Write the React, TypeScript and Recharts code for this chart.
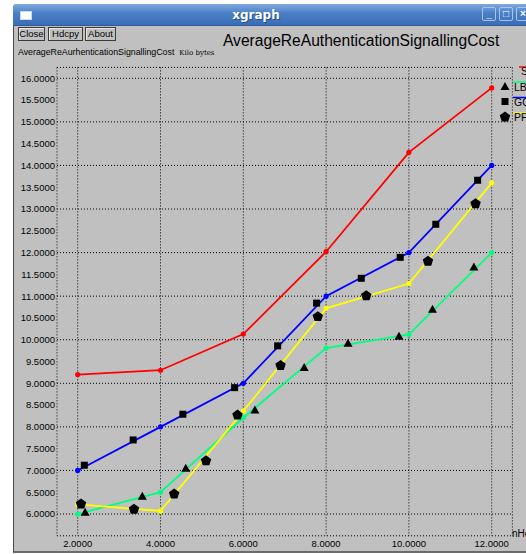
import { CartesianGrid, ComposedChart, Line, Scatter, XAxis, YAxis } from "recharts";

const xValues = [2, 4, 6, 8, 10, 12];
const sValues = [9.2, 9.3, 10.13, 12.02, 14.3, 15.78];
const lbValues = [6.0, 6.5, 8.21, 9.81, 10.12, 12.0];
const gqValues = [7.0, 8.0, 9.0, 11.0, 12.0, 14.0];
const pfValues = [6.22, 6.07, 8.36, 10.72, 11.29, 13.6];

// black marks that xgraph puts along each line
const lbMarkX = [2.18, 3.56, 4.61, 6.28, 7.47, 8.53, 9.76, 10.57, 11.57];
const lbMarkY = [6.04, 6.41, 7.05, 8.39, 9.36, 9.92, 10.08, 10.7, 11.67];
const gqMarkX = [2.16, 3.34, 4.54, 5.79, 6.83, 7.77, 8.85, 9.79, 10.65, 11.66];
const gqMarkY = [7.12, 7.7, 8.29, 8.9, 9.86, 10.84, 11.41, 11.89, 12.65, 13.66];
const pfMarkX = [2.08, 3.36, 4.33, 5.1, 5.86, 6.9, 7.8, 8.97, 10.46, 11.61];
const pfMarkY = [6.23, 6.11, 6.46, 7.22, 8.27, 9.41, 10.53, 11.01, 11.8, 13.12];

const xTicks = [2, 4, 6, 8, 10, 12];
const yTicks = [6, 6.5, 7, 7.5, 8, 8.5, 9, 9.5, 10, 10.5, 11, 11.5, 12, 12.5, 13, 13.5, 14, 14.5, 15, 15.5, 16];

const seriesNames = ["S", "LB", "GQ", "PF"];
const seriesColors = ["#ff0000", "#00ff7f", "#0000ff", "#ffff00"];

const FONT = "'Liberation Sans', Arial, sans-serif";
const BG = "#c0c0c0";

const pairs = (xs: number[], ys: number[]) => xs.map((x, i) => ({ x, y: ys[i] }));

function Triangle({ cx, cy }: any) {
  return <polygon points={`${cx},${cy - 4.5} ${cx + 4.5},${cy + 3.5} ${cx - 4.5},${cy + 3.5}`} fill="#000" />;
}

function Square({ cx, cy }: any) {
  return <rect x={cx - 3.5} y={cy - 3.5} width={7} height={7} fill="#000" />;
}

function Pentagon({ cx, cy }: any) {
  const r = 5.5;
  const pts = [0, 1, 2, 3, 4]
    .map((k) => {
      const a = -Math.PI / 2 + (k * 2 * Math.PI) / 5;
      return `${cx + r * Math.cos(a)},${cy + r * Math.sin(a)}`;
    })
    .join(" ");
  return <polygon points={pts} fill="#000" />;
}

const markShapes = [null, Triangle, Square, Pentagon];

function Button({ left, width, label }: { left: number; width: number; label: string }) {
  return (
    <div
      style={{
        position: "absolute",
        left,
        top: 27,
        width,
        height: 14,
        border: "1px solid #3a3a3a",
        boxShadow: "inset 1px 1px 0 #e8e8e8",
        boxSizing: "border-box",
        fontSize: 9.5,
        lineHeight: "12px",
        textAlign: "center",
        color: "#000",
      }}
    >
      {label}
    </div>
  );
}

function LegendBox() {
  const rows = [
    { line: 67, text: 71, x: 521, lineX: 519 },
    { line: 82, text: 87, x: 514, lineX: 513 },
    { line: 97.5, text: 102, x: 514, lineX: 513 },
    { line: 113, text: 117.5, x: 514, lineX: 513 },
  ];
  return (
    <svg width={526} height={554} style={{ position: "absolute", left: 0, top: 0, pointerEvents: "none" }}>
      {rows.map((r, i) => {
        const Shape = markShapes[i];
        return (
          <g key={seriesNames[i]}>
            <line x1={r.lineX} x2={530} y1={r.line} y2={r.line} stroke={seriesColors[i]} strokeWidth={1.5} />
            <text x={r.x} y={r.text} dy="0.36em" fontSize={10.5} fontFamily={FONT} fill="#000">
              {seriesNames[i]}
            </text>
            {Shape && <Shape cx={505} cy={r.text - 0.5} />}
          </g>
        );
      })}
    </svg>
  );
}

export default function App() {
  const lines = [sValues, lbValues, gqValues, pfValues].map((vals) => pairs(xValues, vals));
  const marks = [null, pairs(lbMarkX, lbMarkY), pairs(gqMarkX, gqMarkY), pairs(pfMarkX, pfMarkY)];

  return (
    <div
      style={{
        position: "absolute",
        left: 0,
        top: 0,
        width: 526,
        height: 554,
        overflow: "hidden",
        background: "#fff",
        fontFamily: FONT,
      }}
    >
      {/* window frame */}
      <div
        style={{
          position: "absolute",
          left: 13,
          top: 4,
          width: 530,
          height: 547,
          background: BG,
          borderLeft: "1px solid #4a4a4a",
          borderBottom: "2px solid #6a6a6a",
          borderTopLeftRadius: 4,
        }}
      />
      <div
        style={{
          position: "absolute",
          left: 13,
          top: 4,
          width: 530,
          height: 21,
          background: "linear-gradient(#7fa9e0, #4a7fc6 45%, #3a6db5)",
          borderTopLeftRadius: 4,
          borderBottom: "1px solid #2c5a9a",
        }}
      />
      <div
        style={{
          position: "absolute",
          left: 20,
          top: 11,
          width: 10,
          height: 7,
          background: "#fff",
          border: "1px solid #c8d8f0",
        }}
      />
      <div
        style={{
          position: "absolute",
          left: 200,
          top: 8,
          width: 112,
          textAlign: "center",
          color: "#fff",
          fontWeight: "bold",
          fontSize: 12,
          fontFamily: "'DejaVu Sans', sans-serif",
          textShadow: "1px 1px 0 #2a4f86",
        }}
      >
        xgraph
      </div>
      {[482, 499, 516].map((l, i) => (
        <div
          key={l}
          style={{
            position: "absolute",
            left: l,
            top: 7,
            width: 14,
            height: 14,
            border: "1px solid #a9c4ea",
            borderRadius: 2,
            boxSizing: "border-box",
            color: "#fff",
            fontSize: 10,
            fontWeight: "bold",
            lineHeight: "12px",
            textAlign: "center",
          }}
        >
          {["_", "□", "×"][i]}
        </div>
      ))}

      <Button left={18} width={27} label="Close" />
      <Button left={48} width={35} label="Hdcpy" />
      <Button left={85} width={31} label="About" />

      <div style={{ position: "absolute", left: 18, top: 47, fontSize: 8.8, color: "#000", whiteSpace: "nowrap" }}>
        AverageReAurhenticationSignallingCost
        <span style={{ fontFamily: "'DejaVu Serif', serif", fontSize: 7, marginLeft: 5 }}>Kilo bytes</span>
      </div>
      <div
        style={{
          position: "absolute",
          left: 223,
          top: 32,
          fontSize: 15.6,
          color: "#000",
          whiteSpace: "nowrap",
        }}
      >
        AverageReAuthenticationSignallingCost
      </div>

      <div style={{ position: "absolute", left: 0, top: 0 }}>
        <ComposedChart width={526} height={554} margin={{ top: 67.4, right: 13.6, left: 0, bottom: 0 }}>
          <CartesianGrid stroke="#000" strokeDasharray="1 2" strokeWidth={1} ticks={undefined} />
          <XAxis
            type="number"
            dataKey="x"
            domain={[1.5, 12.5]}
            ticks={xTicks}
            allowDataOverflow
            height={18.2}
            axisLine={false}
            tickLine={false}
            tickSize={0}
            tickMargin={4}
            tickFormatter={(v: number) => v.toFixed(4)}
            tick={{ fill: "#000", fontSize: 9.5, fontFamily: FONT }}
          />
          <YAxis
            type="number"
            dataKey="y"
            domain={[5.5, 16.25]}
            ticks={yTicks}
            allowDataOverflow
            width={57}
            axisLine={false}
            tickLine={false}
            tickSize={0}
            tickMargin={2}
            tickFormatter={(v: number) => v.toFixed(4)}
            tick={{ fill: "#000", fontSize: 9.5, fontFamily: FONT }}
          />
          {lines.map((data, i) => (
            <Line
              key={seriesNames[i]}
              data={data}
              dataKey="y"
              type="linear"
              stroke={seriesColors[i]}
              strokeWidth={1.8}
              dot={{ r: 2.6, fill: seriesColors[i], stroke: seriesColors[i], strokeWidth: 0 }}
              activeDot={false}
              isAnimationActive={false}
            />
          ))}
          {marks.map((data, i) =>
            data ? (
              <Scatter
                key={"m" + seriesNames[i]}
                data={data}
                dataKey="y"
                shape={markShapes[i] as any}
                isAnimationActive={false}
              />
            ) : null
          )}
        </ComposedChart>
      </div>

      <div style={{ position: "absolute", left: 512, top: 528, fontSize: 10, color: "#000", whiteSpace: "nowrap" }}>
        nHops
      </div>
      <LegendBox />
    </div>
  );
}
